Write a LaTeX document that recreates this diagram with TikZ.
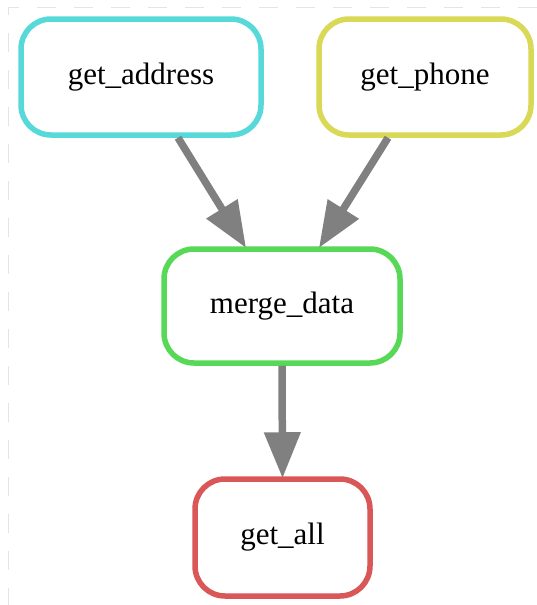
\documentclass[tikz,border=0pt]{standalone}
\usepackage{fontspec}
\setmainfont{Liberation Serif}
\usetikzlibrary{arrows.meta}
\definecolor{ccyan}{HTML}{57D9D9}
\definecolor{cyellow}{HTML}{D9D957}
\definecolor{cgreen}{HTML}{57D957}
\definecolor{cred}{HTML}{D95757}
\definecolor{edgegray}{HTML}{808080}
\definecolor{framegray}{HTML}{E4E4E4}
\tikzset{
  rulebox/.style={draw, line width=5.5pt, rounded corners=30pt, fill=white,
    minimum height=116pt, inner sep=0pt, font=\fontsize{31}{34}\selectfont},
  flow/.style={draw=edgegray, line width=7.5pt,
    -{Triangle[length=46pt,width=35pt]}, shorten >=-2pt},
  frame/.style={draw=framegray, line width=1pt, dash pattern=on 19pt off 18pt}
}
\begin{document}
\begin{tikzpicture}[x=1pt,y=-1pt]
\useasboundingbox (0,0) rectangle (537,605);
\draw[frame] (537,7) -- (8,7) -- (8,605);
\node[rulebox, draw=ccyan, minimum width=240pt] (ga) at (141,77) {get\_address};
\node[rulebox, draw=cyellow, minimum width=212pt] (gp) at (425,77) {get\_phone};
\node[rulebox, draw=cgreen, minimum width=236pt, minimum height=114pt] (md) at (282,306) {merge\_data};
\node[rulebox, draw=cred, minimum width=175pt, minimum height=117pt] (gall) at (282.5,537.5) {get\_all};
\draw[flow] ([xshift=37pt]ga.south) -- ([xshift=-37pt]md.north);
\draw[flow] ([xshift=-37pt]gp.south) -- ([xshift=38pt]md.north);
\draw[flow] (md.south) -- (gall.north);
\end{tikzpicture}
\end{document}
